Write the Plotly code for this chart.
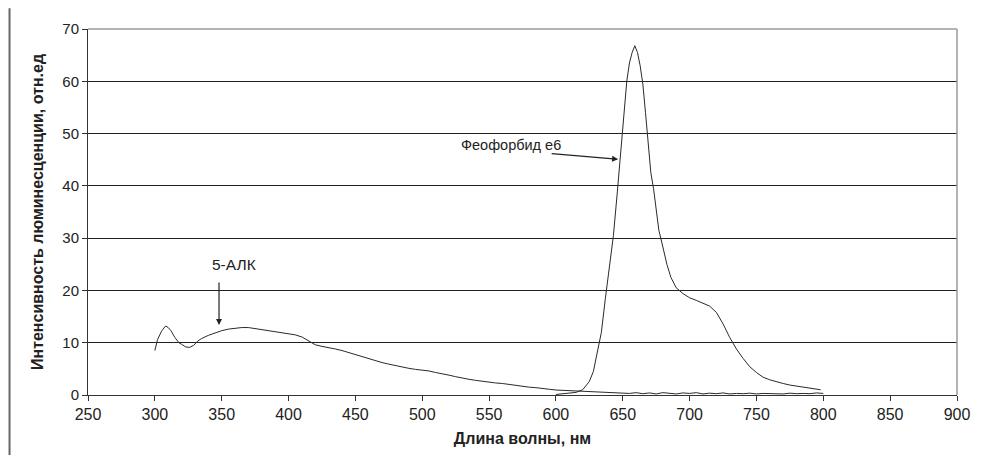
import plotly.graph_objects as go

# 5-АЛК spectrum
ala_x = [300, 302, 305, 308, 310, 312, 315, 318, 320, 323, 326, 329, 332, 335, 340, 345, 350, 355, 360,
         365, 370, 375, 380, 385, 390, 395, 400, 405, 410, 413, 416, 420, 425, 430, 435, 440, 445,
         450, 455, 460, 465, 470, 475, 480, 485, 490, 495, 500, 505, 510, 515, 520, 525, 530,
         535, 540, 545, 550, 555, 560, 565, 570, 575, 580, 585, 590, 595, 600, 605, 610, 615,
         620, 625, 630, 635, 640, 645, 650, 655, 660, 665, 670, 675, 680, 685, 690, 695, 700,
         705, 710, 715, 720, 725, 730, 735, 740, 745, 750, 755, 760, 765, 770, 775, 780, 785,
         790, 795, 800]
ala_y = [8.5, 10.6, 12.2, 13.2, 12.9, 12.3, 11.0, 10.0, 9.7, 9.2, 9.1, 9.5, 10.3, 10.8, 11.4, 11.9, 12.3, 12.6, 12.8,
         12.9, 12.9, 12.7, 12.4, 12.2, 12.0, 11.8, 11.7, 11.5, 11.1, 10.6, 10.2, 9.6, 9.3, 9.1, 8.8, 8.5, 8.1,
         7.7, 7.3, 6.9, 6.5, 6.2, 5.9, 5.6, 5.4, 5.1, 4.9, 4.8, 4.6, 4.3, 4.1, 3.8, 3.5, 3.2,
         3.0, 2.8, 2.6, 2.5, 2.3, 2.2, 2.0, 1.8, 1.7, 1.5, 1.4, 1.2, 1.1, 0.95, 0.9, 0.85, 0.8,
         0.75, 0.7, 0.6, 0.55, 0.5, 0.4, 0.35, 0.3, 0.45, 0.25, 0.4, 0.2, 0.45, 0.3, 0.2, 0.4, 0.3,
         0.45, 0.2, 0.35, 0.25, 0.4, 0.2, 0.3, 0.25, 0.35, 0.2, 0.3, 0.25, 0.3, 0.2, 0.35, 0.25, 0.3,
         0.25, 0.4, 0.3]

# Феофорбид е6 spectrum
pheo_x = [600, 605, 610, 615, 620, 625, 628, 631, 634, 637, 640, 643, 646, 649, 651, 653, 655, 657,
          659, 661, 663, 665, 667, 669, 671, 673, 675, 677, 680, 683, 686, 690, 695, 700, 705,
          710, 715, 720, 725, 730, 735, 740, 745, 750, 755, 760, 765, 770, 775, 780, 785, 790,
          795, 798]
pheo_y = [0.1, 0.2, 0.3, 0.5, 1.0, 2.6, 4.5, 8.0, 12.0, 18.5, 25.0, 30.5, 39.0, 48.0, 54.5, 60.0, 63.5, 65.5,
          66.8, 65.5, 63.0, 59.5, 54.0, 48.5, 42.5, 39.5, 35.5, 31.5, 28.3, 25.0, 22.5, 20.5, 19.4, 18.6, 18.1,
          17.6, 17.0, 15.8, 13.6, 11.0, 8.8, 7.0, 5.4, 4.3, 3.4, 2.9, 2.5, 2.2, 1.9, 1.7, 1.6, 1.4,
          1.2, 1.0]

x_ticks = [250, 300, 350, 400, 450, 500, 550, 600, 650, 700, 750, 800, 850, 900]
y_ticks = [0, 10, 20, 30, 40, 50, 60, 70]

fig = go.Figure()
fig.add_trace(go.Scatter(x=ala_x, y=ala_y, mode="lines", name="5-АЛК",
                         line=dict(color="#2a2a2a", width=1)))
fig.add_trace(go.Scatter(x=pheo_x, y=pheo_y, mode="lines", name="Феофорбид е6",
                         line=dict(color="#2a2a2a", width=1)))

font = "Liberation Sans, Arial, sans-serif"

fig.update_layout(
    width=982, height=467,
    margin=dict(l=88, r=19, t=29, b=72),
    paper_bgcolor="white", plot_bgcolor="white",
    showlegend=False,
    font=dict(family=font, size=14, color="#222"),
    xaxis=dict(range=[250, 900], tickvals=x_ticks, showgrid=False, zeroline=False,
               showline=True, linecolor="#333", linewidth=1,
               ticks="outside", ticklen=5, tickcolor="#333",
               tickfont=dict(size=16, color="#222"),
               title=dict(text="<b>Длина волны, нм</b>", font=dict(size=16, color="#222"), standoff=10)),
    yaxis=dict(range=[0, 70], tickvals=y_ticks, showgrid=True, gridcolor="#222", gridwidth=1,
               zeroline=False, showline=True, linecolor="#333", linewidth=1,
               ticks="outside", ticklen=5, tickcolor="#333",
               tickfont=dict(size=15, color="#222"),
               title=dict(text="<b>Интенсивность люминесценции, отн.ед</b>", font=dict(size=16, color="#222"), standoff=14)),
)

# plot-area border (top and right) in light gray
fig.add_shape(type="line", xref="paper", yref="paper", x0=0, x1=1, y0=1, y1=1,
              line=dict(color="#9a9a9a", width=1.5), layer="above")
fig.add_shape(type="line", xref="paper", yref="paper", x0=1, x1=1, y0=0, y1=1,
              line=dict(color="#9a9a9a", width=1.5), layer="above")
# page edge line at far left
fig.add_shape(type="line", xref="paper", yref="paper", x0=-0.0903, x1=-0.0903, y0=-0.164, y1=1.057,
              line=dict(color="#666", width=2))

fig.add_annotation(x=359, y=24.9, text="5-АЛК", showarrow=False,
                   font=dict(size=15.5, color="#222"))
fig.add_annotation(x=348, y=13.4, ax=348, ay=21.8, axref="x", ayref="y", xref="x", yref="y",
                   text="", showarrow=True, arrowhead=2, arrowsize=1, arrowwidth=1.2, arrowcolor="#222")
fig.add_annotation(x=527.5, y=47.8, text="Феофорбид е6", showarrow=False, xanchor="left",
                   font=dict(size=14.5, color="#222"))
fig.add_annotation(x=646.5, y=45.1, ax=595.7, ay=46.2, axref="x", ayref="y", xref="x", yref="y",
                   text="", showarrow=True, arrowhead=2, arrowsize=1, arrowwidth=1.2, arrowcolor="#222")

fig.write_html("out.html")
